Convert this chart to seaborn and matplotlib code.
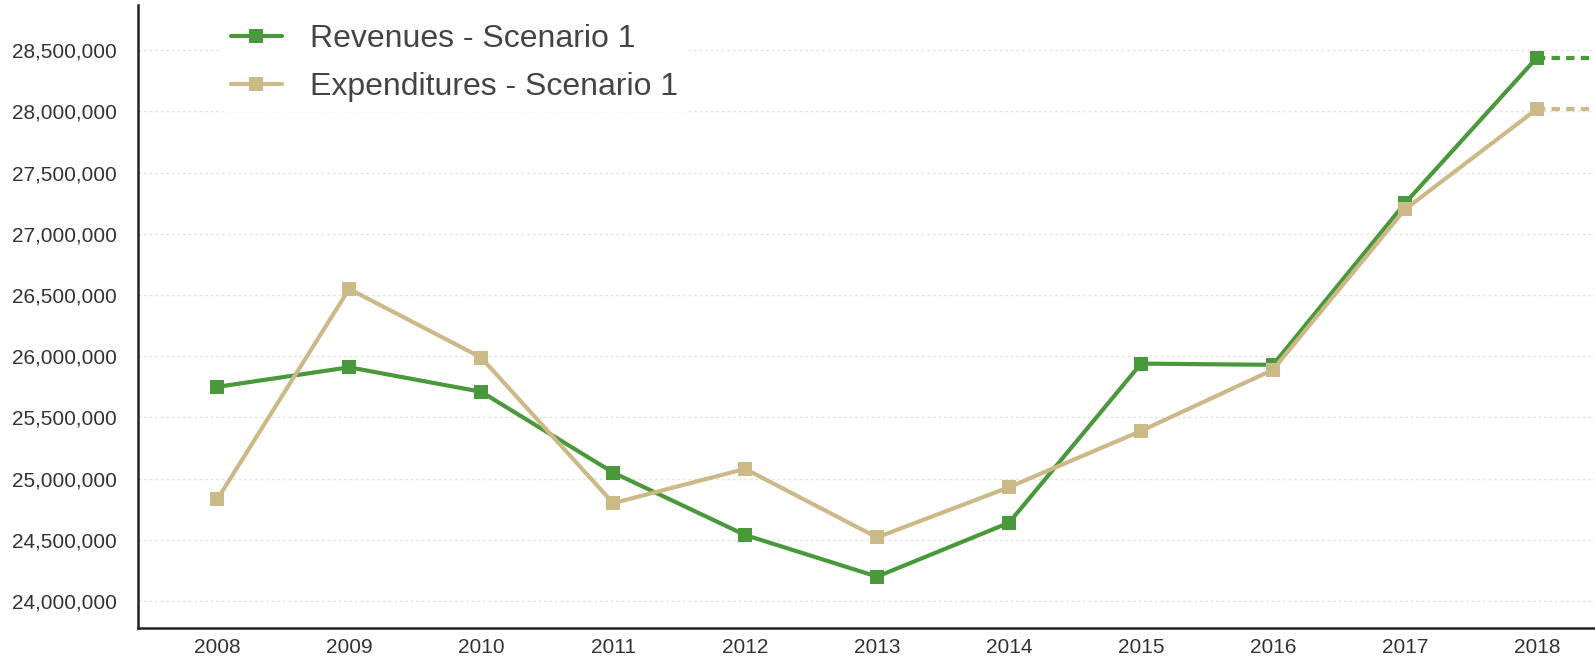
import pandas as pd
import matplotlib.pyplot as plt
import matplotlib.ticker as mticker
import seaborn as sns

# Values
years = [2008, 2009, 2010, 2011, 2012, 2013, 2014, 2015, 2016, 2017, 2018]
revenues = [25750000, 25910000, 25710000, 25050000, 24540000, 24200000,
            24640000, 25940000, 25930000, 27250000, 28440000]
expenditures = [24830000, 26550000, 25990000, 24800000, 25080000, 24520000,
                24930000, 25390000, 25890000, 27200000, 28020000]
# dashed projection going off the right edge
proj_years = [2018, 2019]
proj_revenues = [28440000, 28440000]
proj_expenditures = [28020000, 28020000]

series_names = ['Revenues - Scenario 1', 'Expenditures - Scenario 1']
colors = {'Revenues - Scenario 1': '#4a983c', 'Expenditures - Scenario 1': '#cbb987'}

df = pd.DataFrame({
    'Year': years * 2,
    'Value': revenues + expenditures,
    'Series': [series_names[0]] * len(years) + [series_names[1]] * len(years),
})
proj = pd.DataFrame({
    'Year': proj_years * 2,
    'Value': proj_revenues + proj_expenditures,
    'Series': [series_names[0]] * 2 + [series_names[1]] * 2,
})

sns.set_style('white')
plt.rcParams['font.family'] = ['Liberation Sans', 'DejaVu Sans']

fig = plt.figure(figsize=(15.95, 6.69), dpi=100)
ax = fig.add_axes([138 / 1595, 41 / 669, 1 - 138 / 1595, 623 / 669])

sns.lineplot(data=proj, x='Year', y='Value', hue='Series', palette=colors,
             linewidth=3, linestyle=(0, (2, 1.5)), legend=False, ax=ax)
sns.lineplot(data=df, x='Year', y='Value', hue='Series', palette=colors,
             linewidth=3, marker='s', markersize=10.5, markeredgewidth=0,
             ax=ax)

ax.set_xlim(2007.4, 2018.44)
ax.set_ylim(23780000, 28870000)
ax.set_xticks(years)
ax.set_yticks(range(24000000, 28500001, 500000))
ax.yaxis.set_major_formatter(mticker.FuncFormatter(lambda v, p: f'{int(v):,}'))
ax.tick_params(axis='both', labelsize=15, labelcolor='#333333', length=3,
               width=1.5, colors='#333333')
ax.tick_params(axis='x', length=0, pad=7)
ax.tick_params(axis='y', pad=12)
ax.grid(axis='y', color='#e4e4e4', linestyle=(0, (2, 2)), linewidth=1)
ax.set_axisbelow(True)
ax.set_xlabel('')
ax.set_ylabel('')

for side in ['top', 'right']:
    ax.spines[side].set_visible(False)
for side in ['left', 'bottom']:
    ax.spines[side].set_color('#222222')
    ax.spines[side].set_linewidth(1.8)

leg = ax.legend(loc='upper left', bbox_to_anchor=(0.046, 1.01), frameon=True,
                fontsize=23, handlelength=1.6, labelspacing=0.55,
                borderpad=0.3, handletextpad=0.9)
leg.get_frame().set_edgecolor('white')
leg.get_frame().set_facecolor('white')
leg.get_frame().set_alpha(1)
for t in leg.get_texts():
    t.set_color('#444444')

fig.savefig('out.png', dpi=100)
